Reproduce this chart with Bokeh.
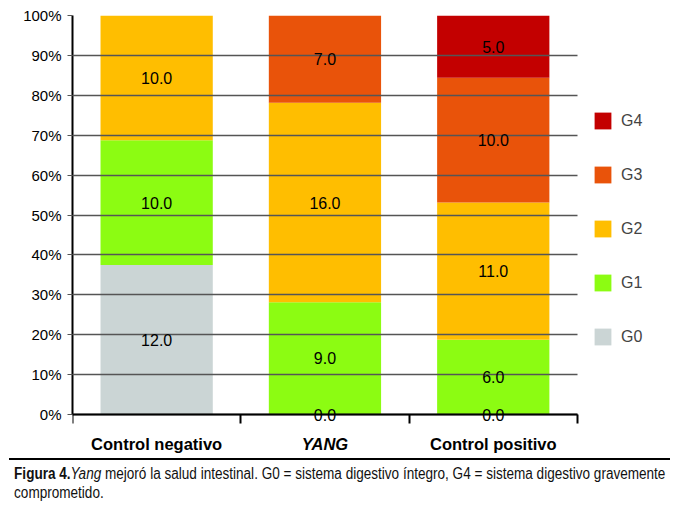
from bokeh.plotting import figure
from bokeh.models import (ColumnDataSource, Range1d, LinearAxis, FixedTicker,
                          NumeralTickFormatter, CustomJSTickFormatter, LabelSet,
                          Legend, LegendItem, Div)
from bokeh.core.properties import value
from bokeh.layouts import column
from bokeh.embed import file_html
from bokeh.resources import INLINE

# datos
grupos = ["Control negativo", "YANG", "Control positivo"]
estilo_grupo = ["bold", "bold italic", "bold"]
series = ["G0", "G1", "G2", "G3", "G4"]
g0 = [12.0, 0.0, 0.0]
g1 = [10.0, 9.0, 6.0]
g2 = [10.0, 16.0, 11.0]
g3 = [0.0, 7.0, 10.0]
g4 = [0.0, 0.0, 5.0]
colores = ["#CBD5D5", "#8CFC12", "#FFBE00", "#E9530A", "#C30000"]
y_ticks = [0, 0.1, 0.2, 0.3, 0.4, 0.5, 0.6, 0.7, 0.8, 0.9, 1.0]

valores = [g0, g1, g2, g3, g4]
totales = [sum(v[i] for v in valores) for i in range(len(grupos))]
posiciones = [i + 0.5 for i in range(len(grupos))]  # centro de cada categoria

data = {"x": posiciones}
for s, v in zip(series, valores):
    data[s] = [x / t for x, t in zip(v, totales)]
source = ColumnDataSource(data)

# etiquetas de cada segmento (en el centro)
lx, ly, lt = [], [], []
base = [0.0] * len(grupos)
for s, v in zip(series, valores):
    for i in range(len(grupos)):
        frac = v[i] / totales[i]
        if v[i] > 0 or s == "G0":
            lx.append(posiciones[i])
            ly.append(base[i] + frac / 2)
            lt.append("%.1f" % v[i])
        base[i] += frac
etiquetas = ColumnDataSource(dict(x=lx, y=ly, t=lt))
cats = ColumnDataSource(dict(x=posiciones, nombre=grupos, estilo=estilo_grupo))

p = figure(x_range=Range1d(0, 3.565), y_range=Range1d(-0.1, 1),
           width=672, height=458, x_axis_type=None,
           output_backend="svg", toolbar_location=None,
           min_border_left=72, min_border_right=0, min_border_top=15, min_border_bottom=4)
p.outline_line_color = None
p.background_fill_color = "white"

rs = p.vbar_stack(series, x="x", width=0.667, color=colores, line_color=None, source=source)

# eje y
p.yaxis.ticker = FixedTicker(ticks=y_ticks)
p.yaxis.bounds = (0, 1)
p.yaxis.formatter = NumeralTickFormatter(format="0%")
p.yaxis.axis_line_width = 2
p.yaxis.axis_line_color = "black"
p.yaxis.major_tick_in = 0
p.yaxis.major_tick_out = 5
p.yaxis.major_tick_line_color = "#555555"
p.yaxis.minor_tick_line_color = None
p.yaxis.major_label_text_font = "Liberation Sans"
p.yaxis.major_label_text_font_size = "15px"
p.yaxis.major_label_text_color = "black"
p.yaxis.major_label_standoff = 6
p.ygrid.ticker = FixedTicker(ticks=y_ticks)
p.ygrid.cross_bounds = (0, len(grupos))
p.ygrid.grid_line_color = "#555555"
p.ygrid.grid_line_width = 1.3
p.ygrid.level = "annotation"

# eje x en y=0 con marcas entre categorias
xaxis = LinearAxis(ticker=FixedTicker(ticks=list(range(len(grupos) + 1))),
                   formatter=CustomJSTickFormatter(code="return ''"),
                   fixed_location=0, bounds=(0, len(grupos)),
                   axis_line_width=2, axis_line_color="black",
                   major_tick_in=0, major_tick_out=9, major_tick_line_width=2,
                   major_tick_line_color="black", minor_tick_line_color=None)
xaxis.level = "overlay"
p.add_layout(xaxis, "below")

p.add_layout(LabelSet(x="x", y="y", text="t", source=etiquetas,
                      text_align="center", text_baseline="middle",
                      text_font=value("Liberation Sans"), text_font_size=value("16px"),
                      text_color="black"))
p.add_layout(LabelSet(x="x", y=-0.073, text="nombre", source=cats,
                      text_align="center", text_baseline="middle",
                      text_font=value("Liberation Sans"), text_font_size=value("16.5px"),
                      text_font_style="estilo", text_color="black"))

items = [LegendItem(label=s, renderers=[r]) for s, r in zip(series, rs)][::-1]
legend = Legend(items=items, location=(520, 107), padding=0, margin=0, spacing=33,
                glyph_width=21, glyph_height=21, label_height=21, label_standoff=8,
                label_text_font="Liberation Sans", label_text_font_size="16px",
                border_line_color=None, background_fill_alpha=0)
p.add_layout(legend)

caption = Div(width=672, height=48, margin=(0, 0, 0, 0), text=(
    '<div style="margin-left:9px;width:661px;border-top:2.5px solid black;padding-top:4px;'
    'font-family:\'Liberation Sans\';font-size:16px;line-height:19px;color:#111;">'
    '<span style="display:inline-block;white-space:nowrap;transform:scaleX(0.847);'
    'transform-origin:0 0;padding-left:6px;">'
    '<b>Figura 4.</b><i>Yang</i> mejoró la salud intestinal. G0 = sistema digestivo íntegro, '
    'G4 = sistema digestivo gravemente<br>comprometido.</span></div>'))

layout = column(p, caption, spacing=0)
open("out.html", "w").write(file_html(layout, INLINE))
